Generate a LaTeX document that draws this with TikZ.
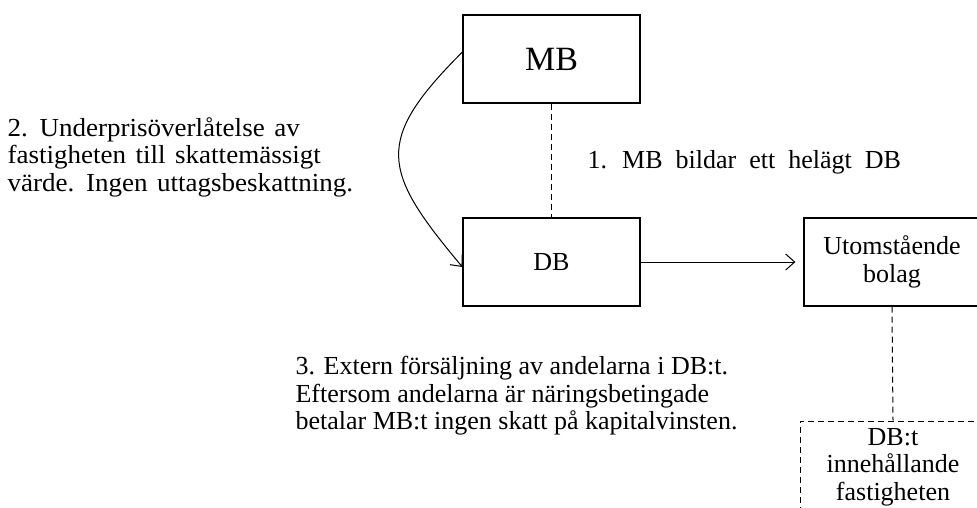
\documentclass[tikz,border=0pt]{standalone}
\usepackage{fontspec}
\setmainfont{Liberation Serif}
\newfontfamily\weitfont[WordSpace=2.0]{Liberation Serif}
\newfontfamily\mittelfont[WordSpace=1.4,FakeStretch=1.04]{Liberation Serif}
\usetikzlibrary{arrows.meta}
\begin{document}
\begin{tikzpicture}[x=1pt,y=-1pt]
\tikzset{every node/.style={font=\fontsize{26}{27.5}\selectfont},
         box/.style={draw,line width=1.2pt,minimum width=177pt,minimum height=88pt},
         dashbox/.style={draw,line width=1pt,dash pattern=on 6pt off 4pt,minimum width=186pt,minimum height=92pt,inner sep=0pt},
         link/.style={line width=1pt,dash pattern=on 6pt off 4pt},
         pil/.style={line width=1pt,-{Straight Barb[length=9pt,width=16pt]}}}
%\useasboundingbox (0,0) rectangle (977,508);
\clip (0,0) rectangle (977,508);
\node[box,font=\fontsize{34}{40}\selectfont] (mb) at (551.5,59) {MB};
\node[box] (db) at (551.5,262) {DB};
\node[box,minimum width=176pt,align=center] (ext) at (892,262) {Utomstående\\bolag};
\node[dashbox,align=center] (dbt) at (893,467) {DB:t\\innehållande\\fastigheten};
% connectors
\draw[link] (mb.south) -- (db.north);
\draw[link] (ext.south) -- (dbt.north);
\draw[pil,shorten >=8pt] (db.east) -- (ext.west);
\draw[pil] ([yshift=7pt]mb.west) to[out=225,in=130,looseness=1.5] ([yshift=-5pt]db.west);
% texts
\node[anchor=west,align=left,font=\fontsize{26}{27.5}\weitfont] (steg1) at (584,162) {1. MB bildar ett helägt DB};
\node[anchor=west,align=left,font=\fontsize{26}{27.5}\mittelfont] (steg2) at (4,157) {2. Underprisöverlåtelse av\\fastigheten till skattemässigt\\värde. Ingen uttagsbeskattning.};
\node[anchor=west,align=left] (steg3) at (292,396) {3. Extern försäljning av andelarna i DB:t.\\Eftersom andelarna är näringsbetingade\\betalar MB:t ingen skatt på kapitalvinsten.};
\end{tikzpicture}
\end{document}
